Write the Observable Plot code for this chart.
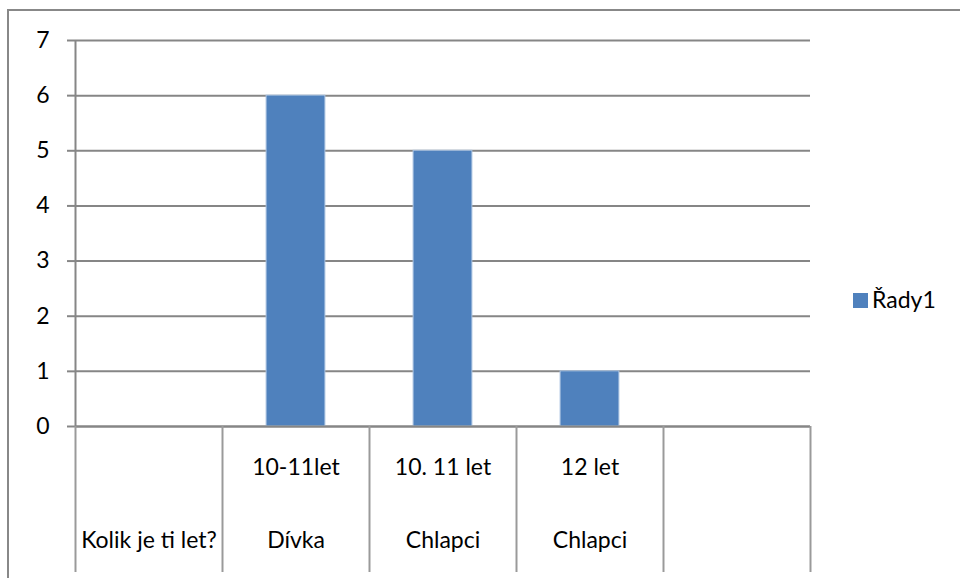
<!DOCTYPE html>
<html>
<head>
<meta charset="utf-8">
<script src="https://cdn.jsdelivr.net/npm/d3@7"></script>
<script src="https://cdn.jsdelivr.net/npm/@observablehq/plot@0.6"></script>
<style>
  html, body { margin: 0; padding: 0; background: #fff; }
  #wrap { position: relative; width: 960px; height: 578px; overflow: hidden; font-family: Lato, "Open Sans", sans-serif; }
  #frame { position: absolute; left: 7px; top: 9px; width: 1000px; height: 1000px; border: 2px solid #888; pointer-events: none; }
  #legend { position: absolute; left: 853px; top: 285px; display: flex; align-items: center; font-size: 23px; line-height: 28px; color: #000; }
  #legend .sw { width: 15px; height: 15px; background: #4f81bd; margin-right: 4px; margin-top: 2px; }
</style>
</head>
<body>
<div id="wrap"><div id="frame"></div><div id="legend"><span class="sw"></span><span id="legtext"></span></div></div>
<script>
const upperLabels = ["", "10-11let", "10. 11 let", "12 let", ""];
const lowerLabels = ["Kolik je ti let?", "Dívka", "Chlapci", "Chlapci", ""];
const values = [null, 6, 5, 1, null];
const yTicks = [0, 1, 2, 3, 4, 5, 6, 7];
const seriesName = "Řady1";

const rows = upperLabels.map((u, i) => ({i, upper: u, lower: lowerLabels[i], value: values[i]}));
const bars = rows.filter(d => d.value != null);
const bounds = d3.range(upperLabels.length + 1);

document.getElementById("legtext").textContent = seriesName;

const chart = Plot.plot({
  width: 960,
  height: 578,
  marginLeft: 75,
  marginRight: 150,
  marginTop: 40,
  marginBottom: 152,
  style: {fontFamily: "Lato, 'Open Sans', sans-serif", fontSize: "23px", color: "#000", background: "transparent", overflow: "visible"},
  x: {type: "linear", domain: [0, upperLabels.length], axis: null},
  y: {domain: [0, 7], axis: null},
  marks: [
    Plot.gridY(yTicks, {stroke: "#868686", strokeOpacity: 1, strokeWidth: 2}),
    Plot.rectY(bars, {x1: d => d.i + 0.3, x2: d => d.i + 0.7, y1: 0, y2: "value", fill: "#4f81bd", stroke: "#a9c2e0", strokeWidth: 1}),
    Plot.ruleY([0], {stroke: "#868686", strokeWidth: 2}),
    Plot.ruleX([0], {stroke: "#868686", strokeWidth: 2}),
    Plot.axisY({ticks: yTicks, tickFormat: d3.format("d"), tickSize: 8, tickPadding: 18, stroke: "#868686", strokeWidth: 2, fill: "#000", fontSize: 23, label: null}),
    Plot.axisX({ticks: bounds, tickSize: 146, tickFormat: () => "", stroke: "#9a9a9a", strokeWidth: 2, label: null}),
    Plot.text(rows, {x: d => d.i + 0.5, text: "upper", frameAnchor: "bottom", dy: 48, fontSize: 23, fill: "#000"}),
    Plot.text(rows, {x: d => d.i + 0.5, text: "lower", frameAnchor: "bottom", dy: 121, fontSize: 23, fill: "#000"})
  ]
});
document.getElementById("wrap").appendChild(chart);
chart.style.position = "absolute";
chart.style.left = "0";
chart.style.top = "0";
</script>
</body>
</html>
